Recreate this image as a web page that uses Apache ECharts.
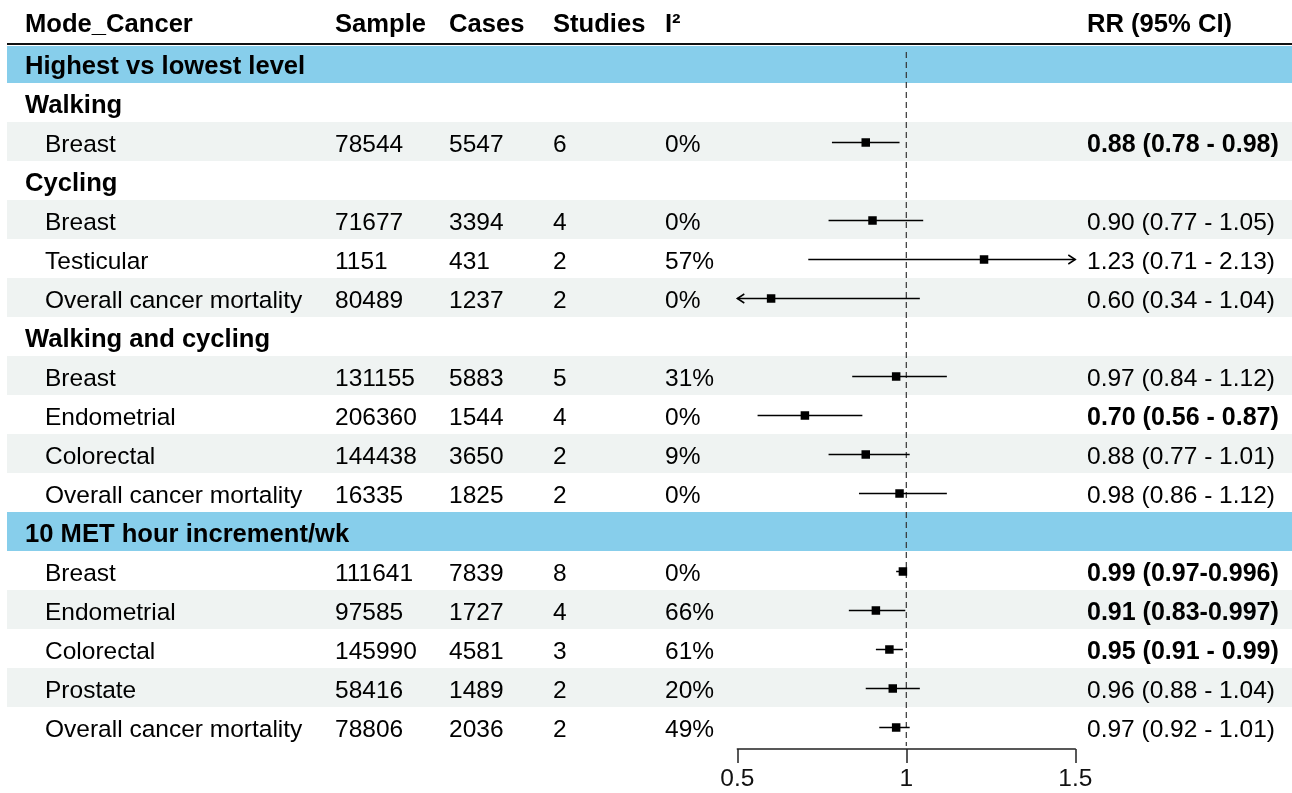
<!DOCTYPE html>
<html>
<head>
<meta charset="utf-8">
<script src="https://cdn.jsdelivr.net/npm/echarts@6/dist/echarts.min.js"></script>
<style>
  html, body { margin: 0; padding: 0; background: #ffffff; }
  #chart { width: 1292px; height: 793px; }
</style>
</head>
<body>
<div id="chart"></div>
<script>
// ---- table content -------------------------------------------------------
const headers = ['Mode_Cancer', 'Sample', 'Cases', 'Studies', 'I\u00B2', 'RR (95% CI)'];

// row kinds: 'band' = section bar, 'group' = bold sub-heading, 'item' = study row
const rowKinds = ['band', 'group', 'item', 'group', 'item', 'item', 'item', 'group',
  'item', 'item', 'item', 'item', 'band', 'item', 'item', 'item', 'item', 'item'];
const rowLabels = ['Highest vs lowest level', 'Walking', 'Breast', 'Cycling', 'Breast',
  'Testicular', 'Overall cancer mortality', 'Walking and cycling', 'Breast', 'Endometrial',
  'Colorectal', 'Overall cancer mortality', '10 MET hour increment/wk', 'Breast',
  'Endometrial', 'Colorectal', 'Prostate', 'Overall cancer mortality'];
const samples = ['', '', '78544', '', '71677', '1151', '80489', '', '131155', '206360',
  '144438', '16335', '', '111641', '97585', '145990', '58416', '78806'];
const cases = ['', '', '5547', '', '3394', '431', '1237', '', '5883', '1544',
  '3650', '1825', '', '7839', '1727', '4581', '1489', '2036'];
const studies = ['', '', '6', '', '4', '2', '2', '', '5', '4',
  '2', '2', '', '8', '4', '3', '2', '2'];
const i2 = ['', '', '0%', '', '0%', '57%', '0%', '', '31%', '0%',
  '9%', '0%', '', '0%', '66%', '61%', '20%', '49%'];
const rr = [null, null, 0.88, null, 0.90, 1.23, 0.60, null, 0.97, 0.70,
  0.88, 0.98, null, 0.99, 0.91, 0.95, 0.96, 0.97];
const ciLower = [null, null, 0.78, null, 0.77, 0.71, 0.34, null, 0.84, 0.56,
  0.77, 0.86, null, 0.97, 0.83, 0.91, 0.88, 0.92];
const ciUpper = [null, null, 0.98, null, 1.05, 2.13, 1.04, null, 1.12, 0.87,
  1.01, 1.12, null, 0.996, 0.997, 0.99, 1.04, 1.01];

const axisTicks = [0.5, 1, 1.5];
const refValue = 1;

// ---- layout / style ------------------------------------------------------
const FONT = '"Liberation Sans", Arial, sans-serif';
const FS = 24.5;        // body text
const FS_BOLD = 25;     // significant estimates
const FS_HEAD = 25.6;   // column headers and group headings
const X_MIN = axisTicks[0], X_MAX = axisTicks[axisTicks.length - 1];
const N_ROWS = rowKinds.length;
const COL_X = { group: 25, item: 45, sample: 335, cases: 449, studies: 553, i2: 665, rr: 1087 };
const BAND_COLOR = '#87ceeb';
const STRIPE_COLOR = '#eff3f2';
const LEFT_EDGE = 7;

function fmt(v) {
  const s = String(v);
  const dec = s.includes('.') ? s.split('.')[1].length : 0;
  return dec > 2 ? s : v.toFixed(2);
}
function ciLabel(i) {
  const lo = fmt(ciLower[i]), hi = fmt(ciUpper[i]);
  const long = lo.length > 4 || hi.length > 4;
  return fmt(rr[i]) + ' (' + lo + (long ? '-' : ' - ') + hi + ')';
}
function isSignificant(i) {
  return ciUpper[i] < refValue || ciLower[i] > refValue;
}

const rowIndex = rowKinds.map((_, i) => [X_MIN, i]);
const forestData = [];
rr.forEach((v, i) => { if (v !== null) forestData.push([v, i, ciLower[i], ciUpper[i]]); });

const chart = echarts.init(document.getElementById('chart'), null, { renderer: 'canvas' });

function rowTop(api, i) { return api.coord([X_MIN, i])[1]; }
function rowMid(api, i) { return api.coord([X_MIN, i + 0.5])[1]; }

function txt(text, x, y, bold, size) {
  return {
    type: 'text',
    style: {
      text: text, x: x, y: y,
      font: (bold ? 'bold ' : 'normal ') + (size || FS) + 'px ' + FONT,
      fill: '#000000',
      align: 'left', verticalAlign: 'middle',
      textAlign: 'left', textVerticalAlign: 'middle'
    }
  };
}

const option = {
  animation: false,
  backgroundColor: '#ffffff',
  grid: { left: 737.3, width: 338, top: 44, bottom: 47, containLabel: false },
  xAxis: {
    type: 'value', min: X_MIN, max: X_MAX, interval: 0.5,
    position: 'bottom', offset: 3,
    axisLine: { show: true, onZero: false, lineStyle: { color: '#222', width: 1.5 } },
    axisTick: { show: true, inside: false, length: 14, lineStyle: { color: '#222', width: 1.5 } },
    axisLabel: { color: '#111', fontSize: FS, fontFamily: FONT, margin: 18 },
    splitLine: { show: false }
  },
  yAxis: { type: 'value', min: 0, max: N_ROWS, inverse: true, show: false },
  series: [
    // row backgrounds: section bands and alternating stripes
    {
      type: 'custom', clip: false, z: 0, silent: true,
      data: rowIndex,
      renderItem: function (params, api) {
        const i = api.value(1);
        const kind = rowKinds[i];
        let fill = null;
        if (kind === 'band') fill = BAND_COLOR;
        else if (i % 2 === 0) fill = STRIPE_COLOR;
        if (!fill) return { type: 'group', children: [] };
        const y0 = rowTop(api, i), y1 = rowTop(api, i + 1);
        const pad = i === 0 ? 2 : 0;
        return {
          type: 'rect',
          shape: { x: LEFT_EDGE, y: y0 + pad, width: api.getWidth() - LEFT_EDGE, height: y1 - y0 - pad },
          style: { fill: fill }
        };
      }
    },
    // header rule and reference line at RR = 1
    {
      type: 'custom', clip: false, z: 1, silent: true,
      data: [[refValue, 0]],
      renderItem: function (params, api) {
        const top = rowTop(api, 0);
        const bottom = rowTop(api, N_ROWS);
        const x = api.coord([api.value(0), 0])[0];
        return {
          type: 'group',
          children: [
            { type: 'line', shape: { x1: LEFT_EDGE, y1: top, x2: api.getWidth(), y2: top },
              style: { stroke: '#111', lineWidth: 2.2 } },
            { type: 'line', shape: { x1: x, y1: top + 8, x2: x, y2: bottom },
              style: { stroke: '#333', lineWidth: 1.2, lineDash: [6, 4] } }
          ]
        };
      }
    },
    // confidence intervals and point estimates
    {
      type: 'custom', clip: false, z: 2, silent: true,
      data: forestData,
      renderItem: function (params, api) {
        const est = api.value(0), i = api.value(1), lo = api.value(2), hi = api.value(3);
        const y = rowMid(api, i) + 1;
        const xl = api.coord([Math.max(lo, X_MIN), 0])[0];
        const xr = api.coord([Math.min(hi, X_MAX), 0])[0];
        const xp = api.coord([est, 0])[0];
        const stroke = { stroke: '#000', lineWidth: 1.5 };
        const children = [
          { type: 'line', shape: { x1: xl, y1: y, x2: xr, y2: y }, style: stroke }
        ];
        const ah = 7, aw = 4.5;
        if (lo < X_MIN) {
          children.push({ type: 'polyline', shape: { points: [[xl + ah, y - aw], [xl, y], [xl + ah, y + aw]] }, style: Object.assign({ fill: null }, stroke) });
        }
        if (hi > X_MAX) {
          children.push({ type: 'polyline', shape: { points: [[xr - ah, y - aw], [xr, y], [xr - ah, y + aw]] }, style: Object.assign({ fill: null }, stroke) });
        }
        const s = 8.5;
        children.push({ type: 'rect', shape: { x: xp - s / 2, y: y - s / 2, width: s, height: s }, style: { fill: '#000' } });
        return { type: 'group', children: children };
      }
    },
    // table text
    {
      type: 'custom', clip: false, z: 3, silent: true,
      data: rowIndex,
      renderItem: function (params, api) {
        const i = api.value(1);
        const y = rowMid(api, i) + 3.5;
        const kind = rowKinds[i];
        const children = [];
        if (i === 0) {
          const hy = rowMid(api, -1) + 0.5;
          children.push(txt(headers[0], COL_X.group, hy, true, FS_HEAD));
          children.push(txt(headers[1], COL_X.sample, hy, true, FS_HEAD));
          children.push(txt(headers[2], COL_X.cases, hy, true, FS_HEAD));
          children.push(txt(headers[3], COL_X.studies, hy, true, FS_HEAD));
          children.push(txt(headers[4], COL_X.i2, hy, true, FS_HEAD));
          children.push(txt(headers[5], COL_X.rr, hy, true, FS_HEAD));
        }
        if (kind === 'item') {
          const sig = isSignificant(i);
          children.push(txt(rowLabels[i], COL_X.item, y, false));
          children.push(txt(samples[i], COL_X.sample, y, false));
          children.push(txt(cases[i], COL_X.cases, y, false));
          children.push(txt(studies[i], COL_X.studies, y, false));
          children.push(txt(i2[i], COL_X.i2, y, false));
          children.push(txt(ciLabel(i), COL_X.rr, y, sig, sig ? FS_BOLD : FS));
        } else {
          children.push(txt(rowLabels[i], COL_X.group, y, true, FS_HEAD));
        }
        return { type: 'group', children: children };
      }
    }
  ]
};

chart.setOption(option);
</script>
</body>
</html>
